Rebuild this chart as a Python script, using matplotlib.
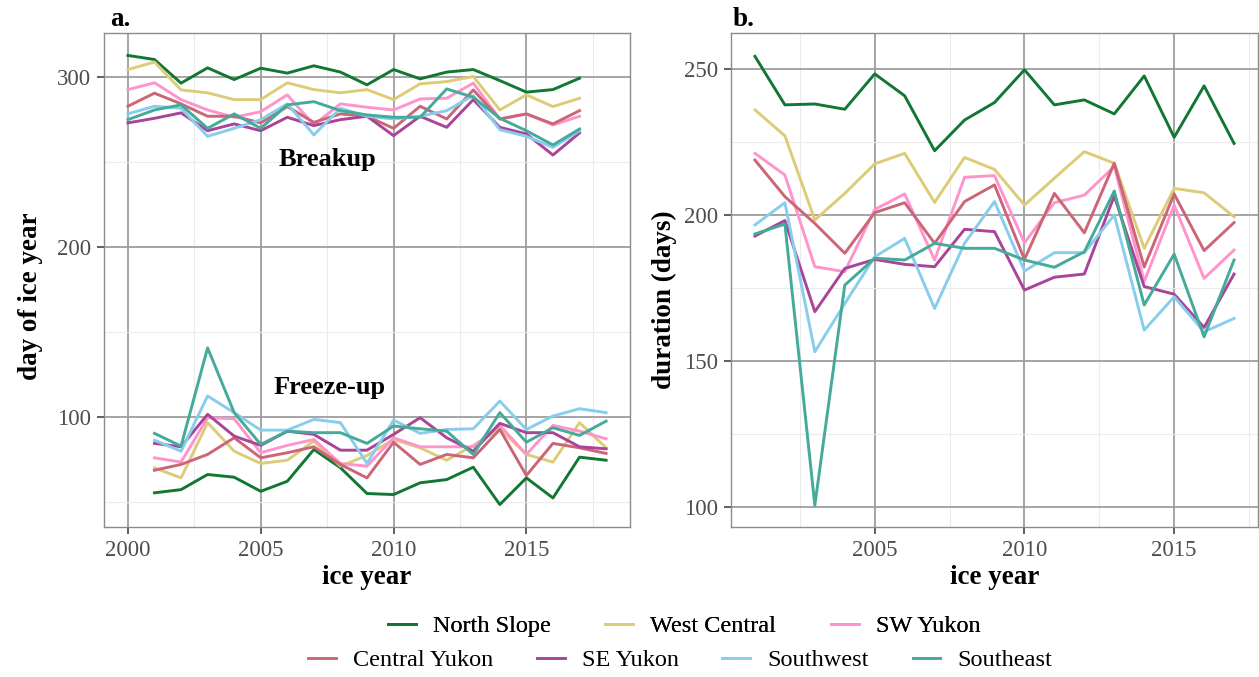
import matplotlib
matplotlib.use("Agg")
import matplotlib.pyplot as plt
from matplotlib.lines import Line2D
from matplotlib.ticker import MultipleLocator

plt.rcParams['font.family'] = ['Liberation Serif', 'DejaVu Serif']

regions = ["North Slope", "West Central", "SW Yukon", "Central Yukon",
           "SE Yukon", "Southwest", "Southeast"]
colors = ["#117733", "#DDCC77", "#FF94CC", "#CC6677",
          "#AA4499", "#88CCEE", "#44AA99"]

breakup_years = list(range(2000, 2018))
freeze_years = list(range(2001, 2019))
duration_years = list(range(2001, 2018))

# day of ice year of breakup, 2000-2017
breakup = {
    "North Slope":   [312.6, 310.2, 296.3, 305.3, 298.4, 305.1, 302.2, 306.5, 302.8,
                      295.3, 304.3, 298.8, 302.8, 304.3, 297.8, 291.0, 292.5, 299.2],
    "West Central":  [304.3, 308.7, 292.3, 290.6, 286.6, 286.6, 296.5, 292.5, 290.6,
                      292.5, 286.6, 295.9, 297.2, 300.2, 280.5, 289.4, 282.5, 287.4],
    "SW Yukon":      [292.5, 296.5, 286.6, 280.5, 276.2, 279.5, 289.4, 271.7, 284.1,
                      282.1, 280.5, 287.0, 287.4, 296.3, 275.2, 278.2, 271.7, 276.8],
    "Central Yukon": [282.7, 290.4, 284.1, 276.8, 276.8, 272.9, 282.5, 273.2, 278.2,
                      276.8, 269.7, 282.7, 275.2, 292.3, 275.2, 278.2, 272.3, 280.1],
    "SE Yukon":      [272.9, 275.6, 278.8, 268.3, 272.3, 268.3, 276.2, 271.3, 274.8,
                      276.8, 265.4, 276.8, 270.3, 286.6, 270.3, 266.4, 254.0, 267.0],
    "Southwest":     [278.2, 282.7, 281.5, 265.0, 269.7, 274.8, 284.1, 265.8, 281.5,
                      276.8, 275.2, 276.8, 280.1, 289.0, 268.9, 265.0, 258.5, 268.3],
    "Southeast":     [274.8, 280.5, 283.5, 269.7, 278.2, 269.7, 283.5, 285.4, 280.1,
                      277.6, 276.2, 276.2, 292.9, 288.0, 275.6, 268.3, 259.9, 269.3],
}

# day of ice year of freeze-up, 2001-2018
freezeup = {
    "North Slope":   [55.2, 57.1, 66.0, 64.4, 56.1, 62.0, 80.7, 70.0, 54.8,
                      54.2, 61.1, 63.0, 70.3, 48.3, 64.0, 52.2, 76.2, 74.4],
    "West Central":  [69.9, 64.0, 96.5, 79.7, 72.5, 74.4, 85.6, 70.9, 77.2,
                      86.6, 81.7, 74.4, 83.1, 92.9, 77.8, 73.3, 96.5, 81.7],
    "SW Yukon":      [75.8, 73.3, 99.4, 98.8, 78.8, 83.1, 86.6, 72.5, 70.9,
                      87.6, 82.3, 82.3, 82.3, 94.9, 77.8, 94.9, 91.5, 87.0],
    "Central Yukon": [68.5, 71.9, 77.8, 87.6, 75.8, 78.8, 82.3, 71.9, 64.0,
                      85.0, 71.9, 77.8, 75.8, 92.5, 65.4, 84.3, 81.7, 78.4],
    "SE Yukon":      [84.3, 82.3, 101.4, 88.6, 83.1, 91.5, 89.6, 80.3, 80.3,
                      89.6, 99.4, 87.6, 79.7, 96.1, 90.6, 90.6, 82.3, 81.1],
    "Southwest":     [86.2, 79.7, 112.2, 102.4, 92.1, 92.1, 98.4, 96.5, 72.5,
                      98.0, 90.2, 92.5, 92.9, 109.2, 92.5, 100.4, 104.7, 102.4],
    "Southeast":     [90.2, 82.7, 140.5, 102.4, 83.7, 91.5, 90.6, 90.6, 84.3,
                      94.5, 92.9, 91.5, 77.8, 102.4, 85.0, 93.5, 89.0, 97.4],
}

# ice cover duration in days, 2001-2017
duration = {
    "North Slope":   [254.3, 237.7, 238.0, 236.2, 248.3, 240.8, 222.0, 232.5, 238.5,
                      249.7, 237.7, 239.4, 234.6, 247.6, 226.6, 244.2, 224.5],
    "West Central":  [236.0, 227.1, 198.3, 207.4, 217.5, 221.1, 204.3, 219.7, 215.6,
                      203.4, 212.6, 221.7, 217.7, 188.6, 209.1, 207.6, 199.4],
    "SW Yukon":      [221.1, 213.7, 182.3, 180.6, 201.9, 207.2, 184.6, 212.9, 213.5,
                      190.5, 204.2, 206.8, 216.6, 177.2, 203.4, 178.3, 188.0],
    "Central Yukon": [218.8, 206.3, 197.1, 186.9, 200.8, 204.2, 190.3, 204.6, 210.3,
                      184.8, 207.4, 193.9, 217.7, 182.2, 207.2, 187.8, 197.4],
    "SE Yukon":      [192.8, 198.1, 166.9, 181.7, 184.8, 183.1, 182.3, 195.1, 194.3,
                      174.3, 178.7, 179.8, 206.5, 175.5, 172.9, 161.5, 179.8],
    "Southwest":     [196.6, 204.2, 153.2, 169.7, 185.7, 192.0, 168.0, 190.3, 204.6,
                      180.8, 187.1, 187.1, 200.0, 160.6, 172.0, 160.0, 164.6],
    "Southeast":     [193.5, 196.9, 100.6, 176.0, 185.2, 184.6, 190.3, 188.6, 188.6,
                      184.6, 182.1, 187.4, 208.2, 169.2, 186.6, 158.3, 184.6],
}

W, H = 1259, 677
fig = plt.figure(figsize=(W / 100, H / 100), dpi=100)
fig.patch.set_facecolor("white")

ax_a = fig.add_axes([104 / W, 1 - 527 / H, 526 / W, 494 / H])
ax_b = fig.add_axes([731 / W, 1 - 527 / H, 527 / W, 494 / H])

LW = 2.1
TICK_COLOR = "#4D4D4D"


def style_axes(ax, xmajor, ymajor):
    ax.set_facecolor("white")
    ax.xaxis.set_major_locator(MultipleLocator(xmajor))
    ax.xaxis.set_minor_locator(MultipleLocator(xmajor / 2))
    ax.yaxis.set_major_locator(MultipleLocator(ymajor))
    ax.yaxis.set_minor_locator(MultipleLocator(ymajor / 2))
    ax.grid(which="major", color="#9E9E9E", linewidth=1.3, zorder=0)
    ax.grid(which="minor", color="#EBEBEB", linewidth=0.8, zorder=0)
    ax.set_axisbelow(True)
    for s in ax.spines.values():
        s.set_color("#8C8C8C")
        s.set_linewidth(1.0)
    ax.tick_params(which="major", direction="out", length=5, width=1.1,
                   color="#333333", labelcolor=TICK_COLOR, labelsize=16.5, pad=4)
    ax.tick_params(which="minor", length=0)


for name, col in zip(regions, colors):
    ax_a.plot(breakup_years, breakup[name], color=col, lw=LW, zorder=3)
    ax_a.plot(freeze_years, freezeup[name], color=col, lw=LW, zorder=3)
    ax_b.plot(duration_years, duration[name], color=col, lw=LW, zorder=3)

style_axes(ax_a, 5, 100)
style_axes(ax_b, 5, 50)

ax_a.set_xlim(1999.1, 2018.9)
ax_a.set_ylim(35.1, 325.8)
ax_b.set_xlim(2000.2, 2017.8)
ax_b.set_ylim(93.2, 262.3)

label_kw = dict(fontsize=19.5, fontweight="bold", color="black")
ax_a.set_xlabel("ice year", labelpad=3, **label_kw)
ax_b.set_xlabel("ice year", labelpad=3, **label_kw)
ax_a.set_ylabel("day of ice year", labelpad=10, **label_kw)
ax_b.set_ylabel("duration (days)", labelpad=5, **label_kw)
ax_a.yaxis.label.set_y(0.468)
ax_b.yaxis.label.set_y(0.46)

ax_a.text(2007.5, 251.5, "Breakup", ha="center", va="center",
          fontsize=19, fontweight="bold", zorder=4)
ax_a.text(2007.6, 117, "Freeze-up", ha="center", va="center",
          fontsize=19, fontweight="bold", zorder=4)

fig.text(110 / W, 1 - 26 / H, "a.", fontsize=19.5, fontweight="bold",
         ha="left", va="baseline")
fig.text(733 / W, 1 - 26 / H, "b.", fontsize=19.5, fontweight="bold",
         ha="left", va="baseline")

handles = [Line2D([0], [0], color=c, lw=LW) for c in colors]
leg_kw = dict(frameon=False, fontsize=17.5, handlelength=1.15,
              handletextpad=0.7, borderpad=0, loc="center")
leg1 = fig.legend(handles[:3], regions[:3], ncol=3, columnspacing=2.25,
                  bbox_to_anchor=(684 / W, 1 - 626 / H), **leg_kw)
fig.add_artist(leg1)
leg2 = fig.legend(handles[3:], regions[3:], ncol=4, columnspacing=1.8,
                  bbox_to_anchor=(680 / W, 1 - 660 / H), **leg_kw)

fig.savefig("out.png", dpi=100, facecolor="white")
